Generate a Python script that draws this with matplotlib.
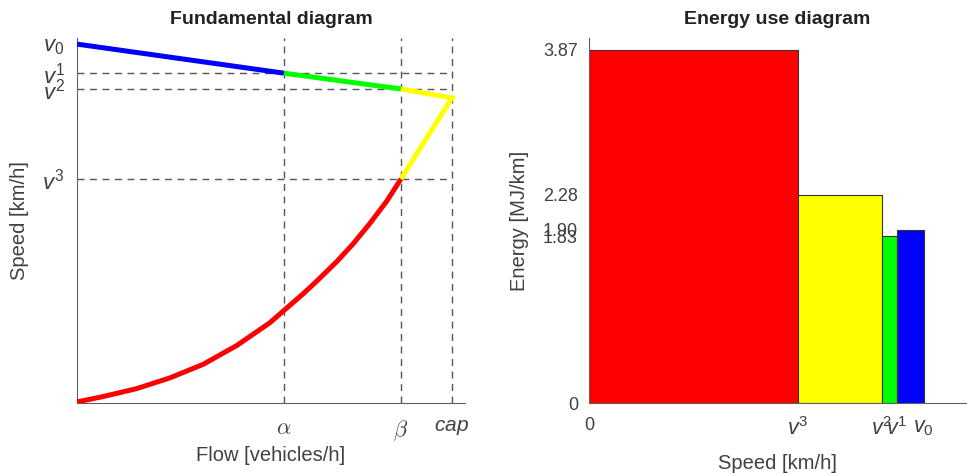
import matplotlib
matplotlib.use("Agg")
import matplotlib.pyplot as plt
import numpy as np

plt.rcParams['font.family'] = ['Liberation Sans', 'DejaVu Sans']
plt.rcParams['mathtext.fontset'] = 'custom'
plt.rcParams['mathtext.rm'] = 'Liberation Sans'
plt.rcParams['mathtext.it'] = 'Liberation Sans:italic'
plt.rcParams['mathtext.bf'] = 'Liberation Sans:bold'

# ---- data ----
# Fundamental diagram: characteristic speeds (arbitrary units, v0 = 100)
speed_names = ['v0', 'v1', 'v2', 'v3']
speed_vals = [100.0, 91.9, 87.5, 62.4]
speed_cap = 85.0
# characteristic flows (cap = 1)
flow_alpha = 0.552
flow_beta = 0.864
flow_cap = 1.0

# free-flow branch
flow_blue = [0.0, 0.552]
speed_blue = [100.0, 91.9]
flow_green = [0.552, 0.864]
speed_green = [91.9, 87.5]
flow_yellow = [0.864, 1.0, 0.864]
speed_yellow = [87.5, 85.0, 62.4]
# congested branch
flow_red = [0.0, 0.07, 0.159, 0.248, 0.337, 0.426, 0.515, 0.55, 0.603, 0.639,
            0.693, 0.737, 0.781, 0.826, 0.864]
speed_red = [0.3, 1.8, 4.0, 7.0, 10.8, 16.0, 22.4, 25.6, 30.4, 33.9,
             39.4, 44.4, 50.0, 56.2, 62.4]

# Energy use diagram
bar_edges = [0.0, 62.4, 87.5, 91.9, 100.0]   # 0, v3, v2, v1, v0
energy = [3.87, 2.28, 1.83, 1.90]
bar_colors = ['#ff0000', '#ffff00', '#00ff00', '#0000ff']
energy_ticks = [0, 1.83, 1.90, 2.28, 3.87]
energy_ticklabels = ['0', '1.83', '1.90', '2.28', '3.87']
speed_ticklabels = ['0', r'$v^3$', r'$v^2$', r'$v^1$', r'$v_0$']

txt = '#404040'
spine_c = '#606060'
dash_c = '#555555'

fig = plt.figure(figsize=(9.67, 4.76), dpi=100)
W, H = 967, 476
ax1 = fig.add_axes([77 / W, (H - 403) / H, 388 / W, 365 / H])
ax2 = fig.add_axes([589 / W, (H - 403) / H, 377 / W, 365 / H])

# ---------- left: fundamental diagram ----------
ymax = 101.7
ax1.set_xlim(0, 1.035)
ax1.set_ylim(0, ymax)
for fx in [flow_alpha, flow_beta, flow_cap]:
    ax1.plot([fx, fx], [0, ymax], ls=(0, (5, 4)), color=dash_c, lw=1.0, zorder=1)
for sv in speed_vals[1:]:
    ax1.plot([0, flow_cap], [sv, sv], ls=(0, (5, 4)), color=dash_c, lw=1.0, zorder=1)

lw = 3.6
ax1.plot(flow_blue, speed_blue, color='#0000ff', lw=lw, solid_capstyle='butt', zorder=3)
ax1.plot(flow_green, speed_green, color='#00ff00', lw=lw, solid_capstyle='butt', zorder=3)
ax1.plot(flow_yellow, speed_yellow, color='#ffff00', lw=lw, solid_capstyle='butt',
         solid_joinstyle='miter', zorder=3)
ax1.plot(flow_red, speed_red, color='#ff0000', lw=lw, solid_capstyle='butt',
         solid_joinstyle='round', zorder=3)

ax1.set_xticks([flow_alpha, flow_beta, flow_cap])
xt = ax1.set_xticklabels([r'$\alpha$', r'$\beta$', r'$cap$'])
xt[0].set_math_fontfamily('cm')
xt[1].set_math_fontfamily('cm')
xt[0].set_fontsize(16)
xt[1].set_fontsize(16)
xt[2].set_fontsize(15)
ax1.set_yticks(speed_vals)
ax1.set_yticklabels([r'$v_0$', r'$v^1$', r'$v^2$', r'$v^3$'])
ax1.tick_params(axis='both', length=0, colors=txt)
ax1.tick_params(axis='x', pad=11)
ax1.tick_params(axis='y', labelsize=16, pad=9)
for s in ['top', 'right']:
    ax1.spines[s].set_visible(False)
for s in ['left', 'bottom']:
    ax1.spines[s].set_color(spine_c)
ax1.set_xlabel('Flow [vehicles/h]', fontsize=14.5, color=txt, labelpad=2)
ax1.set_ylabel('Speed [km/h]', fontsize=14.5, color=txt, labelpad=10)
ax1.set_title('Fundamental diagram', fontsize=14, fontweight='bold', color='#222222', pad=10)

# ---------- right: energy use diagram ----------
widths = np.diff(bar_edges)
ax2.bar(bar_edges[:-1], energy, width=widths, align='edge', color=bar_colors,
        edgecolor='#333333', linewidth=0.8, zorder=2)
ax2.set_xlim(0, 112.6)
ax2.set_ylim(0, 4.0)
ax2.set_xticks(bar_edges)
ax2.set_xticklabels(speed_ticklabels)
ax2.set_yticks(energy_ticks)
ax2.set_yticklabels(energy_ticklabels)
ax2.tick_params(axis='both', length=0, colors=txt, labelsize=13)
ax2.tick_params(axis='x', pad=10)
ax2.tick_params(axis='y', pad=8)
for lab in ax2.get_xticklabels()[1:]:
    lab.set_fontsize(15.5)
for s in ['top', 'right']:
    ax2.spines[s].set_visible(False)
for s in ['left', 'bottom']:
    ax2.spines[s].set_color(spine_c)
ax2.set_xlabel('Speed [km/h]', fontsize=14.5, color=txt, labelpad=10)
ax2.set_ylabel('Energy [MJ/km]', fontsize=14.5, color=txt, labelpad=10)
ax2.set_title('Energy use diagram', fontsize=14, fontweight='bold', color='#222222', pad=10)

fig.savefig('out.png', dpi=100)
